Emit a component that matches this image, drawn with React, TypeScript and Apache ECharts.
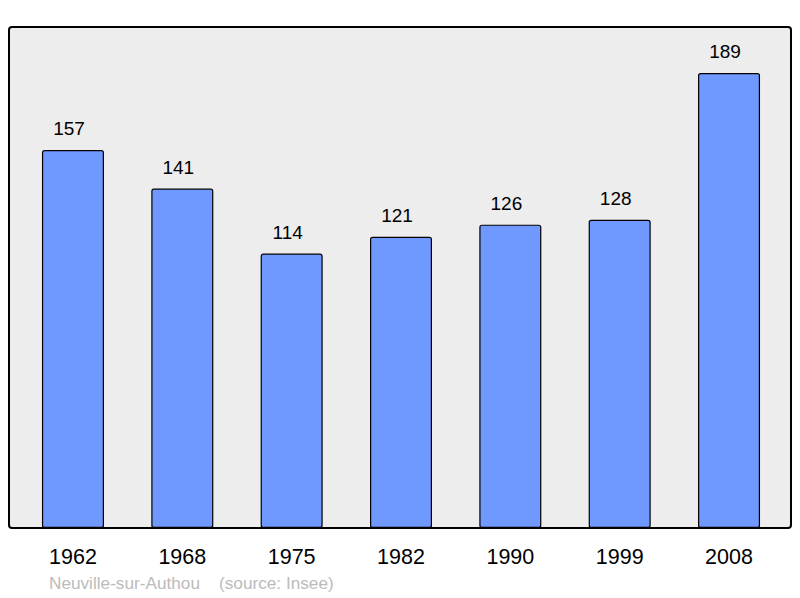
import { useEffect, useRef } from "react";
import * as echarts from "echarts";

const years = ["1962", "1968", "1975", "1982", "1990", "1999", "2008"];
const population = [157, 141, 114, 121, 126, 128, 189];
const footer = "Neuville-sur-Authou    (source: Insee)";

export default function App() {
  const ref = useRef<HTMLDivElement>(null);

  useEffect(() => {
    document.body.style.margin = "0";
    if (!ref.current) return;
    const chart = echarts.init(ref.current, null, { renderer: "svg" });

    chart.setOption({
      animation: false,
      backgroundColor: "#ffffff",
      textStyle: { fontFamily: "Liberation Sans, Arial, sans-serif" },
      graphic: [
        {
          type: "rect",
          z: -10,
          silent: true,
          shape: { x: 9, y: 27, width: 782, height: 501, r: 3 },
          style: { fill: "#ededed", stroke: "#000", lineWidth: 2 },
        },
        {
          type: "text",
          left: 49,
          top: 574,
          style: {
            text: footer,
            fill: "#bbbbbb",
            fontSize: 17.2,
            fontFamily: "Liberation Sans, Arial, sans-serif",
          },
        },
      ],
      grid: { left: 18.3, right: 16.3, top: 27, bottom: 70, containLabel: false },
      xAxis: {
        type: "category",
        data: years,
        axisLine: { show: false },
        axisTick: { show: false },
        axisLabel: { color: "#000", fontSize: 21.5, margin: 18 },
      },
      yAxis: {
        type: "value",
        min: 0,
        max: 208.1,
        show: false,
        splitLine: { show: false },
      },
      series: [
        {
          type: "bar",
          data: population,
          barWidth: 62,
          itemStyle: {
            color: "#7099ff",
            borderColor: "#000",
            borderWidth: 1.2,
            borderRadius: 2,
          },
          label: {
            show: true,
            position: "top",
            distance: 12,
            offset: [-4, 0],
            color: "#000",
            fontSize: 19,
          },
        },
      ],
    });

    return () => chart.dispose();
  }, []);

  return <div ref={ref} style={{ width: 800, height: 598 }} />;
}
